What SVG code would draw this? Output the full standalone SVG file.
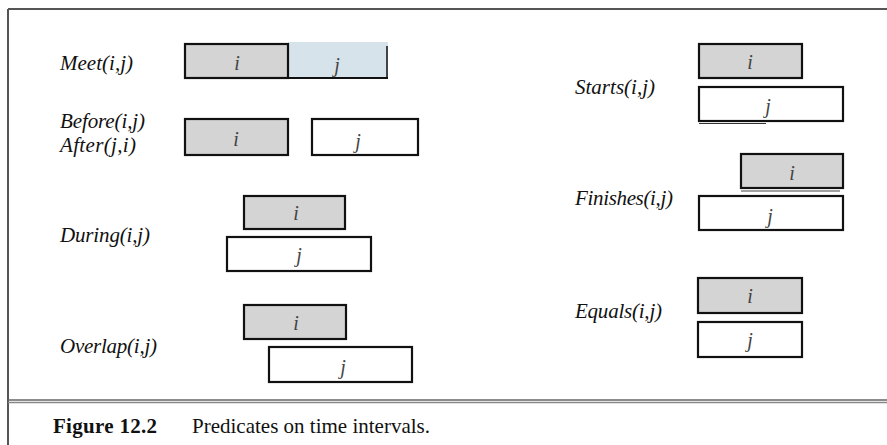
<svg xmlns="http://www.w3.org/2000/svg" width="887" height="445" viewBox="0 0 887 445">
<style>
.lbl{font-family:"Liberation Serif",serif;font-style:italic;font-size:21px;fill:#111}
.let{font-family:"Liberation Serif",serif;font-style:italic;font-size:20px;fill:#444;text-anchor:middle}
.gi{fill:#d4d4d4;stroke:#111;stroke-width:2.2}
.wj{fill:#fff;stroke:#111;stroke-width:2.2}
.frame{stroke:#555;stroke-width:2;fill:none}
.cap{font-family:"Liberation Serif",serif;font-size:21px;fill:#111}
</style>
<rect width="887" height="445" fill="#fff"/>
<g id="frame">
<line class="frame" x1="8" y1="9" x2="887" y2="9"/>
<line class="frame" x1="8" y1="9" x2="8" y2="445"/>
<line x1="8" y1="400" x2="887" y2="400" stroke="#666" stroke-width="1.5"/>
<line x1="8" y1="402.5" x2="887" y2="402.5" stroke="#888" stroke-width="1.5"/>
</g>
<g id="connectors"></g>
<g id="meet">
<text class="lbl" x="60" y="70" textLength="73">Meet(i,j)</text>
<rect x="288" y="42" width="100" height="36" fill="#d7e3ea"/>
<line x1="288" y1="78" x2="388" y2="78" stroke="#111" stroke-width="2"/>
<line x1="387" y1="46" x2="387" y2="78" stroke="#111" stroke-width="1.5"/>
<rect class="gi" x="185" y="44" width="103" height="34"/>
<text class="let" x="237" y="70">i</text>
<text class="let" x="337" y="72">j</text>
</g>
<g id="before">
<text class="lbl" x="60" y="128" textLength="85">Before(i,j)</text>
<text class="lbl" x="60" y="152" textLength="76">After(j,i)</text>
<rect class="gi" x="185" y="119" width="103" height="36"/>
<text class="let" x="236" y="146">i</text>
<rect class="wj" x="312" y="119" width="106" height="36"/>
<text class="let" x="358" y="148">j</text>
</g>
<g id="during">
<text class="lbl" x="60" y="242" textLength="90">During(i,j)</text>
<rect class="gi" x="244" y="196" width="101" height="33"/>
<text class="let" x="296" y="220">i</text>
<rect class="wj" x="227" y="237" width="144" height="34"/>
<text class="let" x="299" y="262">j</text>
</g>
<g id="overlap">
<text class="lbl" x="60" y="353" textLength="97">Overlap(i,j)</text>
<rect class="gi" x="244" y="305" width="102" height="34"/>
<text class="let" x="296" y="330">i</text>
<rect class="wj" x="269" y="347" width="143" height="35"/>
<text class="let" x="343" y="374">j</text>
</g>
<g id="starts">
<text class="lbl" x="575" y="94" textLength="80">Starts(i,j)</text>
<rect class="gi" x="699" y="44" width="103" height="34"/>
<text class="let" x="750" y="69">i</text>
<rect class="wj" x="699" y="87" width="144" height="34"/>
<text class="let" x="768" y="113">j</text>
<line x1="699" y1="123.5" x2="766" y2="123.5" stroke="#333" stroke-width="1.2"/>
</g>
<g id="finishes">
<text class="lbl" x="575" y="205" textLength="98">Finishes(i,j)</text>
<rect class="gi" x="741" y="154" width="102" height="34"/>
<text class="let" x="792" y="180">i</text>
<line x1="741" y1="191" x2="840" y2="191" stroke="#444" stroke-width="1"/>
<rect class="wj" x="699" y="196" width="144" height="34"/>
<text class="let" x="770" y="223">j</text>
</g>
<g id="equals">
<text class="lbl" x="575" y="318" textLength="87">Equals(i,j)</text>
<rect class="gi" x="698" y="278" width="104" height="35"/>
<text class="let" x="750" y="303">i</text>
<rect class="wj" x="698" y="322" width="104" height="35"/>
<text class="let" x="750" y="347">j</text>
</g>
<g id="caption">
<text class="cap" x="53" y="433" font-weight="bold" textLength="104">Figure 12.2</text>
<text class="cap" x="192" y="433" textLength="238">Predicates on time intervals.</text>
</g>
</svg>
